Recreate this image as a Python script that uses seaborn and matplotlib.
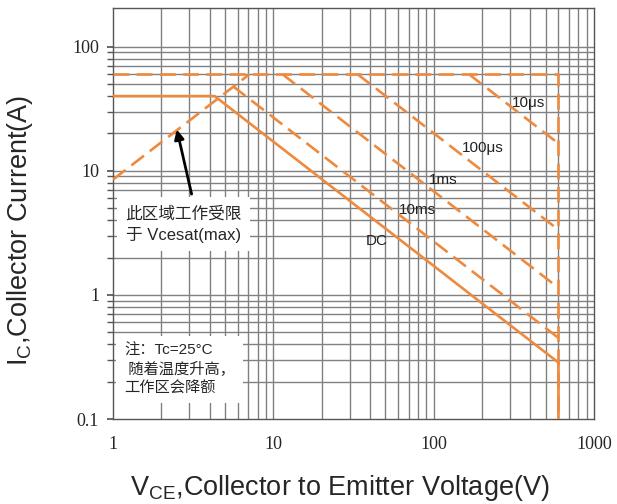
import numpy as np
import pandas as pd
import matplotlib
matplotlib.use("Agg")
import matplotlib.pyplot as plt
import seaborn as sns
from matplotlib.ticker import FixedLocator, NullFormatter

# ---- data (V, A) ----
envelope_v = [1, 600, 600]
envelope_i = [60, 60, 0.1]
vcesat_v = [1, 7.1]
vcesat_i = [8.5, 60]
dc_v = [1, 4.3, 600, 600]
dc_i = [40, 40, 0.285, 0.1]
ms10_v = [5.6, 600]
ms10_i = [48, 0.45]
ms1_v = [11.4, 600]
ms1_i = [60, 1.14]
us100_v = [33.5, 600]
us100_i = [60, 3.35]
us10_v = [166, 600]
us10_i = [60, 16.6]

xticks = [1, 10, 100, 1000]
xticklabels = ["1", "10", "100", "1000"]
yticks = [0.1, 1, 10, 100]
yticklabels = ["0.1", "1", "10", "100"]

curve_labels = ["10μs", "100μs", "1ms", "10ms", "DC"]
label_pos_v = [393, 202, 115, 79, 44]
label_pos_i = [35.3, 15.3, 8.46, 4.85, 2.73]

sns.set_theme(style="white")
plt.rcParams['font.family'] = ['Liberation Sans', 'Noto Sans CJK SC', 'DejaVu Sans']
plt.rcParams['mathtext.fontset'] = 'custom'
plt.rcParams['mathtext.rm'] = 'Liberation Sans'

orange = "#EE8A3E"
fig = plt.figure(figsize=(6.17, 5.04), dpi=100)
ax = fig.add_axes([113/617, 1-419/504, (594-113)/617, (419-8)/504])
ax.set_xscale("log")
ax.set_yscale("log")
ax.set_xlim(1, 1000)
ax.set_ylim(0.1, 205)

# grid
minors_x = [m*10**e for e in range(0, 3) for m in range(2, 10)]
minors_y = [m*10**e for e in range(-1, 2) for m in range(2, 10)]
for v in minors_x + xticks[1:-1]:
    ax.axvline(v, color="#808080", lw=1.0, zorder=1)
for v in minors_y + yticks[1:]:
    ax.axhline(v, color="#808080", lw=1.0, zorder=1)

dash = (6, 2.8)
lw = 1.9
def line(v, i, dashed):
    df = pd.DataFrame({"V": v, "I": i})
    sns.lineplot(data=df, x="V", y="I", ax=ax, color=orange, lw=lw, sort=False,
                 estimator=None, zorder=3)
    l = ax.lines[-1]
    if dashed:
        l.set_dashes(dash)
    return l

line(envelope_v, envelope_i, True)
line(vcesat_v, vcesat_i, True)
line(dc_v, dc_i, False)
line(ms10_v, ms10_i, True)
line(ms1_v, ms1_i, True)
line(us100_v, us100_i, True)
line(us10_v, us10_i, True)

for t, v, i in zip(curve_labels, label_pos_v, label_pos_i):
    ax.text(v, i, t, fontsize=11, ha="center", va="center", color="#222222", zorder=5)

ax.set_xticks(xticks)
ax.set_xticklabels(xticklabels, family="Liberation Serif", fontsize=13)
ax.set_yticks(yticks)
ax.set_yticklabels(yticklabels, family="Liberation Serif", fontsize=13)
ax.xaxis.set_minor_locator(FixedLocator(minors_x))
ax.yaxis.set_minor_locator(FixedLocator(minors_y))
ax.xaxis.set_minor_formatter(NullFormatter())
ax.yaxis.set_minor_formatter(NullFormatter())
ax.tick_params(axis="y", which="both", left=True, length=4, color="#555555", pad=6)
ax.tick_params(axis="x", which="both", bottom=False, pad=6)
for s in ax.spines.values():
    s.set_color("#555555")
    s.set_linewidth(1.0)

ax.set_xlabel("V$_{\\rm CE}$,Collector to Emitter Voltage(V)", fontsize=19.5)
ax.set_ylabel("I$_{\\rm C}$,Collector Current(A)", fontsize=19.5)
ax.xaxis.set_label_coords(0.472, -0.168)
ax.yaxis.set_label_coords(-0.193, 0.46)
ax.xaxis.label.set_va("center")
ax.yaxis.label.set_va("center")

# annotation boxes
ax.text(1.2, 3.7, "此区域工作受限\n于 Vcesat(max)", fontsize=12, ha="left", va="center",
        family=["Liberation Sans", "Noto Sans CJK SC"], linespacing=1.45, zorder=6,
        bbox=dict(boxstyle="square,pad=0.5", fc="white", ec="none"))
ax.annotate("", xy=(2.48, 22.6), xytext=(3.12, 6.17),
            arrowprops=dict(arrowstyle="-|>", color="black", lw=2, mutation_scale=14), zorder=7)
ax.text(1.17, 0.25, "注：Tc=25°C\n 随着温度升高，\n工作区会降额", fontsize=11, ha="left", va="center",
        family=["Liberation Sans", "Noto Sans CJK SC"], linespacing=1.35, zorder=6,
        bbox=dict(boxstyle="square,pad=0.5", fc="white", ec="none"))

fig.savefig("out.png", dpi=100, facecolor="white")
